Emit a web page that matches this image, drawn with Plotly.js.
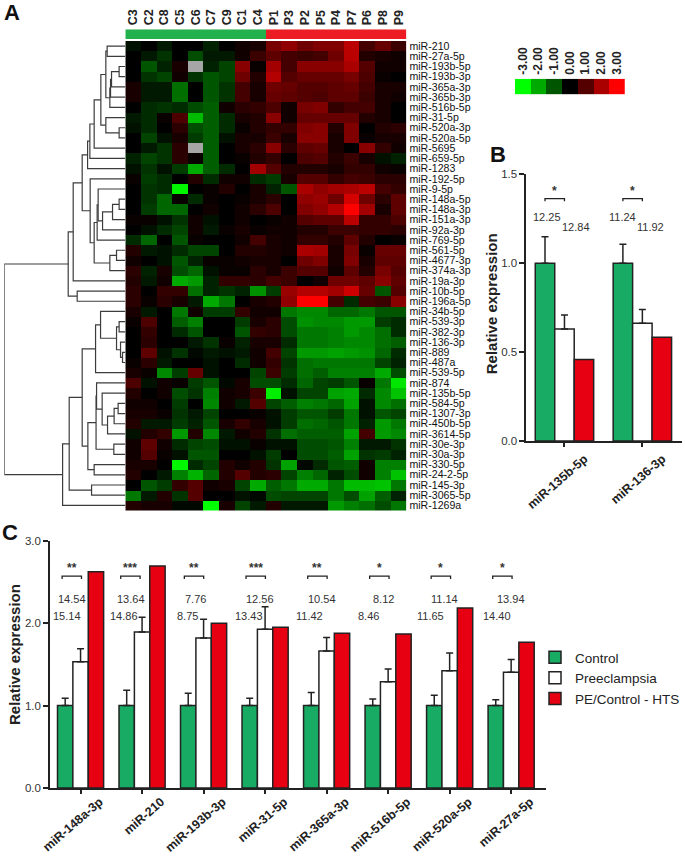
<!DOCTYPE html>
<html>
<head>
<meta charset="utf-8">
<script src="https://cdn.plot.ly/plotly-3.0.1.min.js"></script>
<style>html,body{margin:0;padding:0;background:#fff}#chart{width:685px;height:857px}</style>
</head>
<body>
<div id="chart"></div>
<script>
// ---------- DATA ----------
const sampleLabels = ['C3','C2','C8','C5','C6','C7','C9','C1','C4','P1','P3','P2','P5','P4','P7','P6','P8','P9'];
const controlSampleCount = 9;
const rowLabels = ['miR-210','miR-27a-5p','miR-193b-5p','miR-193b-3p','miR-365a-3p','miR-365b-3p','miR-516b-5p','miR-31-5p','miR-520a-3p','miR-520a-5p','miR-5695','miR-659-5p','miR-1283','miR-192-5p','miR-9-5p','miR-148a-5p','miR-148a-3p','miR-151a-3p','miR-92a-3p','miR-769-5p','miR-561-5p','miR-4677-3p','miR-374a-3p','miR-19a-3p','miR-10b-5p','miR-196a-5p','miR-34b-5p','miR-539-3p','miR-382-3p','miR-136-3p','miR-889','miR-487a','miR-539-5p','miR-874','miR-135b-5p','miR-584-5p','miR-1307-3p','miR-450b-5p','miR-3614-5p','miR-30e-3p','miR-30a-3p','miR-330-5p','miR-24-2-5p','miR-145-3p','miR-3065-5p','miR-1269a'];
const expression = [
[-.2,0,-.3,0,0,-.4,0,.2,.3,1.4,1.7,1.3,1.5,1.5,2.2,.8,1.2,.7],
[0,-.3,-.6,0,-.9,-.3,-.3,.2,.7,1.1,.8,.7,.8,1.3,2.2,.4,.3,.2],
[0,-1,-.4,.3,null,-.4,-.8,1.6,.1,1.9,.8,1.6,1.6,1.6,2,1,.2,.2],
[0,-.6,-.8,.2,-.6,-1,-.8,1.3,.4,2.1,1,1.2,1.2,1.2,1.4,.9,.1,0],
[.3,-.3,-.3,-1.3,0,-1,-.6,.8,.3,1.3,1.2,1,1,1.1,1.2,.8,.3,.3],
[.3,-.3,-.3,-1.3,0,-1,-.6,.8,.3,1.2,1.1,1,.9,1.1,1.1,.7,.3,.2],
[0,-.5,-.6,-.5,-.9,-1.1,.2,.5,.6,.9,.2,1.4,1.5,.6,.8,.8,.3,0],
[-.3,-.5,.1,.9,-2.2,-1.1,-.5,.3,.4,1.6,.2,1.2,1.2,1.2,1.2,.4,.3,0],
[-.2,-.5,0,.5,-.9,-1.1,-.5,.1,.4,.6,.6,1.5,1.6,.4,1.5,0,.4,.5],
[0,-.8,-.2,.3,-.7,-1.1,-.2,.3,.3,.7,.3,1.6,1.6,.3,1.5,.1,.3,.3],
[0,-.3,-.6,.5,null,-1.1,0,.3,.5,1.6,.5,1.1,1.2,.3,0,1.6,.6,.2],
[-.4,-.8,-.6,.5,.1,-1.1,0,.1,.4,.6,0,.9,1,.4,.7,.3,-.2,-.4],
[-.2,-.6,-.2,-.7,-2,-1.1,-.5,0,1.9,1,.4,.4,.4,.3,.6,.6,.2,.1],
[.1,-.7,-.5,0,.4,-.5,.2,.2,-.5,-.7,.3,1,1,.6,.8,.7,.5,.5],
[0,-.6,-.5,-2.9,0,.1,.4,0,.3,-.4,-1,2,1.7,1.9,2,2.2,.8,.6],
[0,-.6,-1.2,.1,-.5,.1,0,.1,.3,.5,0,1.7,1.8,1.3,2.5,1.3,.5,1.1],
[0,-.7,-1.2,-1.2,0,.2,0,.2,.5,.9,0,1.5,1.7,2.1,3,1.9,.3,1.1],
[.1,.1,-.2,-.6,.2,-.2,0,.2,0,.1,.2,1,1.1,1.1,2.2,.6,.6,.9],
[0,-.2,-.5,-.8,.2,-.3,.1,.3,.1,.2,.2,.4,.4,.7,.7,.6,.6,.5],
[-.5,-1.2,0,-1,.1,0,0,.2,.8,.3,.2,.6,.6,.4,1.1,.4,0,.1],
[.4,-.3,-.2,-.5,-.8,-.8,0,.4,.4,.3,.2,2,1.9,.3,1.4,.1,1.2,1.2],
[.2,0,-.2,-1,-.4,.1,.1,.2,.3,.3,0,1.3,1.5,.3,1.5,.3,1.1,1.1],
[.5,-.4,.3,-.9,-1.2,-.2,.1,.1,.5,.3,.7,1,1,.2,1.1,.4,1.4,1],
[.4,-.3,.2,-2,-1.8,-.4,.6,.6,.5,.8,.7,0,.2,1.3,1.3,1.1,1.6,1.1],
[.5,0,.6,.6,-1.3,-.4,-.6,-.4,-1.7,-.7,1.8,2.1,2.1,1.9,2.4,1.2,-1,1],
[.5,.1,.5,.3,-.3,-2,-1.4,0,.3,.4,1.7,3,3,.8,-.5,.8,.7,1.6],
[.3,-.3,0,-1.4,.2,-.7,-.7,.6,.2,.2,-1.4,-1.6,-1.6,-1.2,-1.2,-1.4,-1,-1],
[.1,.9,0,-1.1,-1.5,0,0,-.7,.3,.5,-.9,-1.7,-1.6,-1.6,-1.8,-1.8,-.7,-.5],
[0,.6,0,-.5,-1,0,0,-1,.6,.5,-.9,-1.4,-1.4,-1.5,-1.8,-1.6,-1.3,-.5],
[0,.5,0,0,-.3,-.6,.1,-.4,.3,.3,-.5,-1.4,-1.4,-1.5,-1.6,-1.6,-1.3,-1.1],
[0,1.1,-.2,-.6,-.1,-.3,-.2,-.3,.2,.8,-.8,-1.8,-1.8,-1.9,-1.8,-1.7,-1.2,-.5],
[.1,.5,-.3,0,0,-.2,0,-.5,.2,.6,-.6,-1.3,-1.4,-1.4,-1.4,-1.4,-.8,-.4],
[.3,.1,-1.6,-.7,1.2,-.2,0,0,-.8,.7,-.7,-1.3,-1.1,-1.5,-1.5,-1.5,-2,-.9],
[.9,-.2,.2,.1,-.7,-1,-.1,.3,-.9,-.9,-.5,-1.2,-.8,-.7,-1,.1,-1.4,-2.7],
[.4,0,.2,-.9,-.6,-1.5,.2,.3,.7,-2.8,-.2,-.8,-.8,-1.9,-2,-.5,-1.6,-2.3],
[.2,.2,0,-.7,0,-1.6,.2,-.3,1,-.8,-1.1,-1.5,-1.4,-1.2,-1.9,-.2,-1.6,-1.3],
[.3,.3,.1,-.6,-.3,-.8,0,0,.1,-.2,-.7,-1,-1,-.7,-1.4,-.2,-1,-.8],
[.4,-.3,-.3,-.7,-.4,-1,.3,.6,.3,-.2,-.7,-1.3,-1.2,-1,-1.4,-.4,-1.8,-1.4],
[-.2,.4,.6,-1.8,.4,-1.6,-.3,.2,.4,-.6,-1.3,-1.1,-1.1,-1.1,-1.9,.8,-1.8,-1.6],
[.2,1.1,.2,-.5,-.8,-.9,-.2,-.2,.1,-.2,-.2,-.9,-.9,-1,-1.5,-.3,-.3,-.6],
[.2,1,.1,-.2,-1,-1,0,0,-.2,-.7,0,-.9,-.9,-1.1,-1.9,-.6,-.7,-.4],
[.3,.3,0,-2.9,-.5,-.8,.4,.2,.4,-.6,-1.9,-.1,-.5,-1,-1.1,.2,-1.5,-1.5],
[.4,0,-.3,-1.5,-2.1,-1.2,.4,1,.4,.5,-.8,-1.5,-1.2,-.4,-.9,.2,-1.5,-2.3],
[0,-1,-.7,.6,1,.2,.3,-.8,-2,-1.1,-1.4,-2,-2,-1.4,-2.2,-2.2,-2.3,-1.4],
[-1.4,-.3,.4,-.6,1,0,0,-.2,-.1,-.9,-.8,-.8,-.8,-1.4,-.9,-1.9,-1.1,-.4],
[.4,.3,.3,-.1,-.1,-3,.3,-.8,-.3,.4,-.3,-.3,-.3,-1.8,-1.5,-1.3,-.9,-1.4]
];
const missingCells = [[2,4],[10,4]];
const legendValues = [-3,-2,-1,0,1,2,3];
const legendLabels = ['-3.00','-2.00','-1.00','0.00','1.00','2.00','3.00'];

// Row dendrogram: [height, left, right]; a number is a row index.
const upperA = [19.5,[18.2,0,1],[15.5,[14.8,[13.8,[6.2,2,3],4],5],6]];
const upperB = [19.5,7,[6.2,8,9]];
const upperC = [37.8,[35.5,[31.2,[24.5,upperA,upperB],10],11],12];
const upperD = [35.2,13,[31.2,[28.2,[27.2,14,[22.8,[12.8,[6.2,15,16],17],18]],19],[15.5,[8.8,20,21],22]]];
const upperTree = [57.2,[52.2,[43.2,upperC,upperD],23],[48.2,24,25]];
const lowerA = [29.8,[24.8,26,[8.8,[6.2,27,28],[4.8,29,[2.8,30,31]]]],32];
const lowerB = [28.8,33,[23.2,34,[17.8,[11.2,[7.2,35,36],37],38]]];
const lowerC = [37.5,[29.3,lowerB,[11.5,39,40]],[31.2,41,42]];
const lowerTree = [62.8,[56.2,[43.2,lowerA,lowerC],[33.8,43,44]],45];
const dendroTree = [121.2,upperTree,lowerTree];

const seriesNames = ['Control','Preeclampsia','PE/Control - HTS'];

const panelBCats = ['miR-135b-5p','miR-136-3p'];
const bControl = [1,1];
const bControlErr = [.149,.106];
const bPre = [.63,.662];
const bPreErr = [.079,.077];
const bHts = [.459,.583];
const bStars = ['*','*'];
const bStatUpper = ['12.25','11.24'];
const bStatUpperX = [-.218,.749];
const bStatLower = ['12.84','11.92'];
const bStatLowerX = [.154,1.11];

const panelCCats = ['miR-148a-3p','miR-210','miR-193b-3p','miR-31-5p','miR-365a-3p','miR-516b-5p','miR-520a-5p','miR-27a-5p'];
const cControl = [1,1,1,1,1,1,1,1];
const cControlErr = [.09,.185,.148,.09,.16,.08,.124,.07];
const cPre = [1.532,1.892,1.82,1.925,1.662,1.29,1.423,1.403];
const cPreErr = [.158,.178,.226,.275,.165,.153,.214,.157];
const cHts = [2.624,2.693,2.0,1.949,1.876,1.868,2.183,1.767];
const cStars = ['**','***','**','***','**','*','*','*'];
const cStatUpper = ['14.54','13.64','7.76','12.56','10.54','8.12','11.14','13.94'];
const cStatUpperX = [-.141,.818,1.867,2.911,3.929,4.919,5.914,6.997];
const cStatLower = ['15.14','14.86','8.75','13.43','11.42','8.46','11.65','14.40'];
const cStatLowerX = [-.218,.708,1.731,2.744,3.722,4.68,5.682,6.763];
const cBracketStart = [-.3,-.347,-.313,-.31,-.307,-.3,-.3,-.3];

// ---------- STYLE ----------
const W = 685, H = 857;
const FONT = 'Liberation Sans, Arial, sans-serif';
const INK = '#222';
const TXT = '#333';
const GREEN = '#17ab63', RED = '#e60012';
const dx = (a,b) => [a/W, b/W];
const dy = (t,b) => [1-b/H, 1-t/H];
const heatScale = [[0,'#00ff00'],[.5,'#000000'],[1,'#ff0000']];

// ---------- DENDROGRAM ----------
const dendX = [], dendY = [];
function walk(node){
  if (typeof node === 'number') return {y:node, h:0};
  const l = walk(node[1]), r = walk(node[2]);
  dendX.push(l.h,node[0],node[0],r.h,null);
  dendY.push(l.y,l.y,r.y,r.y,null);
  return {y:(l.y+r.y)/2, h:node[0]};
}
walk(dendroTree);

const cols = sampleLabels.map((_,i)=>i);
const rows = rowLabels.map((_,i)=>i);
const missingZ = rows.map(()=>cols.map(()=>null));
missingCells.forEach(([r,c])=>{missingZ[r][c]=1;});

function barTraces(ctrl,ctrlErr,pre,preErr,hts,xa,ya,showLegend){
  const xs = ctrl.map((_,i)=>i);
  const err = a => ({type:'data',symmetric:false,array:a,arrayminus:a.map(()=>0),color:INK,thickness:1.5,width:3.5,visible:true});
  const line = {color:INK,width:1.5};
  return [
    {type:'bar',name:seriesNames[0],x:xs,y:ctrl,xaxis:xa,yaxis:ya,marker:{color:GREEN,line},error_y:err(ctrlErr),showlegend:showLegend},
    {type:'bar',name:seriesNames[1],x:xs,y:pre,xaxis:xa,yaxis:ya,marker:{color:'#ffffff',line},error_y:err(preErr),showlegend:showLegend},
    {type:'bar',name:seriesNames[2],x:xs,y:hts,xaxis:xa,yaxis:ya,marker:{color:RED,line},showlegend:showLegend}
  ];
}
function bracketTrace(starts,width,y0,y1,xa,ya){
  const x=[],y=[];
  starts.forEach(s=>{x.push(s,s,s+width,s+width,null);y.push(y1,y0,y0,y1,null);});
  return {type:'scatter',mode:'lines',x,y,xaxis:xa,yaxis:ya,line:{color:INK,width:1.3},showlegend:false,hoverinfo:'skip'};
}

const traces = [
  {type:'heatmap',z:expression,x:cols,y:rows,xaxis:'x',yaxis:'y',colorscale:heatScale,zmin:-3,zmax:3,showscale:false,zsmooth:false,hoverongaps:false},
  {type:'heatmap',z:missingZ,x:cols,y:rows,xaxis:'x',yaxis:'y',colorscale:[[0,'#a6a6a6'],[1,'#a6a6a6']],zmin:0,zmax:1,showscale:false,zsmooth:false},
  {type:'scatter',mode:'lines',x:dendX,y:dendY,xaxis:'x2',yaxis:'y',line:{color:'#3c3c3c',width:1.2},showlegend:false,hoverinfo:'skip'},
  {type:'heatmap',z:[cols.map(i=>i<controlSampleCount?0:1)],x:cols,xaxis:'x3',yaxis:'y3',colorscale:[[0,'#22b14c'],[1,'#ed1c24']],zmin:0,zmax:1,showscale:false},
  {type:'heatmap',z:[legendValues],x:legendValues,xaxis:'x4',yaxis:'y4',colorscale:heatScale,zmin:-3,zmax:3,showscale:false},
  ...barTraces(bControl,bControlErr,bPre,bPreErr,bHts,'x5','y5',false),
  bracketTrace(bControl.map((_,i)=>i-.25),.25,1.363,1.348,'x5','y5'),
  ...barTraces(cControl,cControlErr,cPre,cPreErr,cHts,'x6','y6',true),
  bracketTrace(cBracketStart.map((s,i)=>i+s),.315,2.571,2.535,'x6','y6')
];

const numAxisFont = {family:FONT,size:11.5,color:TXT};
const catAxisFont = {family:FONT,size:12.5,color:INK,weight:'bold'};
function valAxis(domain,anchor,range,tickvals){
  return {domain,anchor,range,tickvals,tickformat:'.1f',ticks:'outside',ticklen:5,tickwidth:1.5,tickcolor:INK,showline:true,linecolor:INK,linewidth:1.5,showgrid:false,zeroline:false,tickfont:numAxisFont};
}
function catAxis(domain,anchor,range,cats,shift,standoff){
  return {domain,anchor,range,tickvals:cats.map((_,i)=>i),ticktext:cats,tickangle:-41,ticklabelshift:shift,ticklabelstandoff:standoff,ticks:'outside',ticklen:4,tickwidth:1.5,tickcolor:INK,showline:true,linecolor:INK,linewidth:1.5,showgrid:false,zeroline:false,tickfont:catAxisFont};
}

const ann = [];
const paperText = (text,x,y,size,extra) => ann.push(Object.assign({text,xref:'paper',yref:'paper',x:x/W,y:1-y/H,xanchor:'center',yanchor:'middle',showarrow:false,font:{family:FONT,size,color:'#111',weight:'bold'}},extra||{}));
paperText('A',12,12,22);
paperText('B',499,155,22);
paperText('C',10,532,22);
paperText('Relative expression',492,304,15,{textangle:-90,font:{family:FONT,size:15,color:INK,weight:'bold'}});
paperText('Relative expression',14,654,15,{textangle:-90,font:{family:FONT,size:15,color:INK,weight:'bold'}});
const dataText = (text,x,y,xa,ya,size,yshift,weight) => ann.push({text,x,y,xref:xa,yref:ya,xanchor:'center',yanchor:'middle',showarrow:false,yshift:yshift||0,font:{family:FONT,size,color:TXT,weight:weight||'normal'}});
bStatUpper.forEach((t,i)=>dataText(t,bStatUpperX[i],1.262,'x5','y5',11));
bStatLower.forEach((t,i)=>dataText(t,bStatLowerX[i],1.206,'x5','y5',11));
bStars.forEach((t,i)=>dataText(t,i-.125,1.41,'x5','y5',12,-1,'bold'));
cStatUpper.forEach((t,i)=>dataText(t,cStatUpperX[i],2.288,'x6','y6',11));
cStatLower.forEach((t,i)=>dataText(t,cStatLowerX[i],2.086,'x6','y6',11));
cStars.forEach((t,i)=>dataText(t,i+cBracketStart[i]+.157,2.676,'x6','y6',12,-1,'bold'));

const layout = {
  width:W,height:H,margin:{l:0,r:0,t:0,b:0,pad:0},paper_bgcolor:'#fff',plot_bgcolor:'rgba(0,0,0,0)',
  font:{family:FONT},hovermode:false,barmode:'group',bargap:.25,bargroupgap:0,
  xaxis:{domain:dx(125.5,407),range:[-.5,17.5],visible:false,anchor:'y'},
  yaxis:{domain:dy(41,510.5),range:[45.5,-.5],anchor:'x',side:'right',tickvals:rows,ticktext:rowLabels,ticks:'',ticklabelstandoff:2,showline:false,showgrid:false,zeroline:false,tickfont:{family:FONT,size:10.6,color:'#111'}},
  xaxis2:{domain:dx(4.3,125.5),range:[121.2,0],visible:false,anchor:'y'},
  xaxis3:{domain:dx(125.5,407),range:[-.5,17.5],anchor:'y3',side:'top',tickvals:cols,ticktext:sampleLabels,tickangle:-90,ticks:'',ticklabelstandoff:3,showgrid:false,zeroline:false,showline:false,tickfont:{family:FONT,size:12.5,color:INK,weight:'bold'}},
  yaxis3:{domain:dy(29.3,39),visible:false,anchor:'x3'},
  xaxis4:{domain:dx(515.7,625.7),range:[-3.5,3.5],anchor:'y4',side:'top',tickvals:legendValues,ticktext:legendLabels,tickangle:-90,ticks:'',ticklabelstandoff:3,showgrid:false,zeroline:false,showline:false,tickfont:{family:FONT,size:12,color:INK,weight:'bold'}},
  yaxis4:{domain:dy(78.7,94.3),visible:false,anchor:'x4'},
  xaxis5:catAxis(dx(527,683),'y5',[-.491,1.509],panelBCats,20,0),
  yaxis5:valAxis(dy(174.3,441),'x5',[0,1.5],[0,.5,1,1.5]),
  xaxis6:catAxis(dx(50,546.7),'y6',[-.498,7.565],panelCCats,19,-4),
  yaxis6:valAxis(dy(540.7,788),'x6',[0,3],[0,1,2,3]),
  showlegend:true,
  legend:{x:536/W,xanchor:'left',y:1-642/H,yanchor:'top',bgcolor:'rgba(0,0,0,0)',font:{family:FONT,size:13.5,color:INK},traceorder:'normal',tracegroupgap:0},
  annotations:ann
};

Plotly.newPlot('chart',traces,layout,{displayModeBar:false,responsive:false}).then(()=>{
  document.querySelectorAll('#chart .legend path.legendbar').forEach(p=>p.setAttribute('d','M9,4.5H-9V-4.5H9Z'));
});
</script>
</body>
</html>
